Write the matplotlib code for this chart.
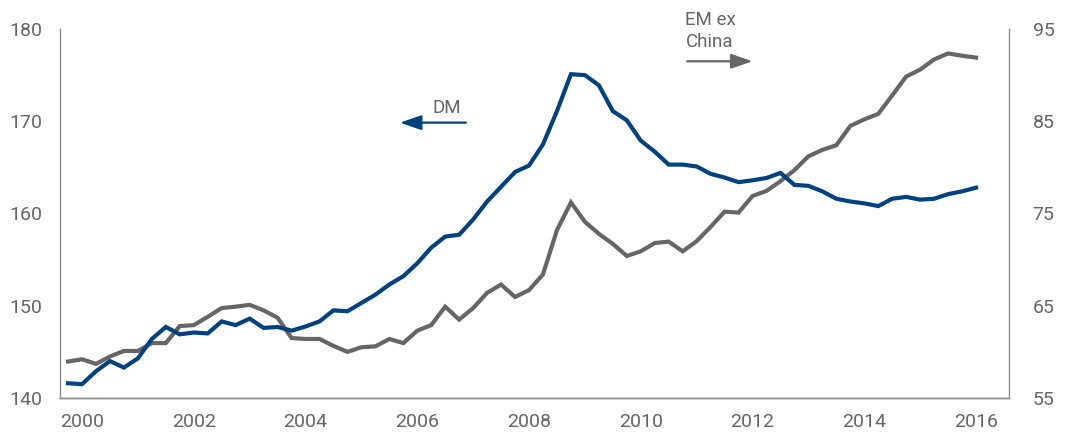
import matplotlib
matplotlib.use("agg")
import matplotlib.pyplot as plt
import numpy as np

# quarterly data, 1999 Q4 .. 2016 Q1
dm = [141.6, 141.5, 142.9, 144.0, 143.3, 144.3, 146.4, 147.7, 146.9, 147.1,
      147.0, 148.3, 147.9, 148.6, 147.6, 147.7, 147.3, 147.75, 148.3, 149.5,
      149.4, 150.3, 151.2, 152.3, 153.2, 154.6, 156.3, 157.5, 157.7, 159.35,
      161.3, 162.9, 164.5, 165.2, 167.5, 171.1, 175.1, 175.0, 173.9, 171.1,
      170.1, 167.9, 166.7, 165.3, 165.3, 165.1, 164.3, 163.9, 163.4, 163.6,
      163.85, 164.4, 163.1, 163.0, 162.4, 161.6, 161.3, 161.1, 160.8, 161.6,
      161.8, 161.5, 161.6, 162.1, 162.4, 162.8]
em_ex_china = [58.95, 59.2, 58.7, 59.5, 60.1, 60.1, 60.95, 60.95, 62.8, 62.9,
               63.8, 64.75, 64.9, 65.1, 64.5, 63.7, 61.5, 61.4, 61.4, 60.65,
               60.0, 60.5, 60.6, 61.4, 60.95, 62.3, 62.9, 64.9, 63.5, 64.75,
               66.4, 67.3, 65.95, 66.7, 68.4, 73.2, 76.2, 74.1, 72.8, 71.7,
               70.4, 70.9, 71.8, 71.95, 70.9, 72.0, 73.55, 75.2, 75.1, 76.9,
               77.45, 78.5, 79.7, 81.2, 81.9, 82.4, 84.5, 85.2, 85.8, 87.8,
               89.85, 90.6, 91.7, 92.35, 92.1, 91.9]
years = [2000, 2002, 2004, 2006, 2008, 2010, 2012, 2014, 2016]
left_ticks = [140, 150, 160, 170, 180]
right_ticks = [55, 65, 75, 85, 95]

x = 1999.75 + 0.25 * np.arange(len(dm))

blue = "#00427f"
grey = "#666666"
txt = "#666666"
spine = "#8c8c8c"

plt.rcParams["font.family"] = ["Roboto", "DejaVu Sans"]

fig = plt.figure(figsize=(10.69, 4.34), dpi=100)
ax = fig.add_axes([60 / 1069, 36 / 434, 949 / 1069, 369 / 434])
ax2 = ax.twinx()

ax.plot(x, dm, color=blue, lw=3.0, solid_joinstyle="miter", zorder=3)
ax2.plot(x, em_ex_china, color=grey, lw=3.0, solid_joinstyle="miter")
ax.set_zorder(ax2.get_zorder() + 1)
ax.patch.set_visible(False)

ax.set_xlim(1999.606, 2016.59)
ax.set_ylim(140, 180)
ax2.set_ylim(55, 95)
ax.set_xticks(years)
ax.set_yticks(left_ticks)
ax2.set_yticks(right_ticks)

for a in (ax, ax2):
    a.spines["top"].set_visible(False)
    for s in ("left", "right", "bottom"):
        a.spines[s].set_color(spine)
        a.spines[s].set_linewidth(1.0)
    a.tick_params(length=0, labelsize=14, labelcolor=txt)
ax.spines["right"].set_visible(False)
ax2.spines["left"].set_visible(False)
ax.tick_params(axis="x", pad=11)
ax.tick_params(axis="y", pad=13)
ax2.tick_params(axis="y", pad=17)

arrow = "-|>,head_length=1.3,head_width=0.45"

# DM label with arrow pointing to the left axis
ax.text(2006.53, 171.4, "DM", color=txt, fontsize=13.5, ha="center", va="center")
ax.annotate("", xy=(2005.69, 169.85), xytext=(2006.87, 169.85),
            arrowprops=dict(arrowstyle=arrow, color=blue, lw=1.6,
                            shrinkA=0, shrinkB=0))

# EM ex China label with arrow pointing to the right axis
ax.text(2010.8, 179.8, "EM ex\nChina", color=txt, fontsize=13.5,
        ha="left", va="center", linespacing=1.25)
ax.annotate("", xy=(2012.0, 176.5), xytext=(2010.83, 176.5),
            arrowprops=dict(arrowstyle=arrow, color=grey, lw=1.6,
                            shrinkA=0, shrinkB=0),
            annotation_clip=False)

fig.savefig("out.png", dpi=100)
